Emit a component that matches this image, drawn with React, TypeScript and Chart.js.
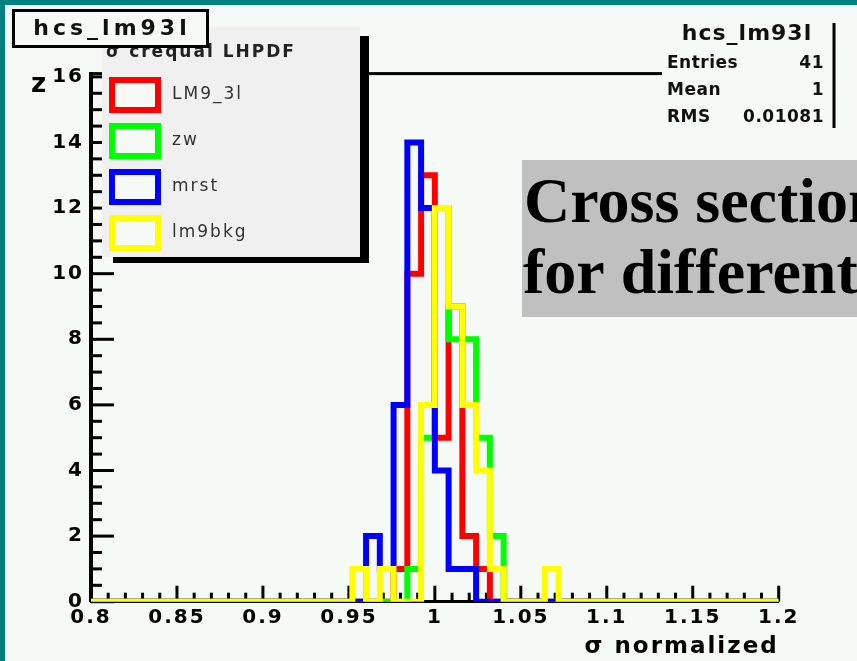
import React, { useEffect, useRef } from 'react';
import { Chart, registerables } from 'chart.js';

Chart.register(...registerables);

// ---------- data ----------
const binStart = 0.8;
const binWidth = 0.008;
const binCount = 50;

const xTicks = [0.8, 0.85, 0.9, 0.95, 1, 1.05, 1.1, 1.15, 1.2];
const yTicks = [0, 2, 4, 6, 8, 10, 12, 14, 16];
const yMax = 16.1;

const seriesNames = ['LM9_3l', 'zw', 'mrst', 'lm9bkg'];
const seriesColors = ['#ff0000', '#00ff00', '#0000ff', '#ffff00'];

// counts per bin (bin i covers binStart + i*binWidth ... + binWidth)
const lm93lCounts = [
  0, 0, 0, 0, 0, 0, 0, 0, 0, 0,
  0, 0, 0, 0, 0, 0, 0, 0, 0, 0,
  0, 0, 1, 10, 13, 5, 9, 2, 1, 0,
  0, 0, 0, 0, 0, 0, 0, 0, 0, 0,
  0, 0, 0, 0, 0, 0, 0, 0, 0, 0,
];
const zwCounts = [
  0, 0, 0, 0, 0, 0, 0, 0, 0, 0,
  0, 0, 0, 0, 0, 0, 0, 0, 0, 0,
  0, 0, 0, 1, 5, 12, 8, 8, 5, 2,
  0, 0, 0, 0, 0, 0, 0, 0, 0, 0,
  0, 0, 0, 0, 0, 0, 0, 0, 0, 0,
];
const mrstCounts = [
  0, 0, 0, 0, 0, 0, 0, 0, 0, 0,
  0, 0, 0, 0, 0, 0, 0, 0, 0, 0,
  2, 1, 6, 14, 12, 4, 1, 1, 0, 0,
  0, 0, 0, 0, 0, 0, 0, 0, 0, 0,
  0, 0, 0, 0, 0, 0, 0, 0, 0, 0,
];
const lm9bkgCounts = [
  0, 0, 0, 0, 0, 0, 0, 0, 0, 0,
  0, 0, 0, 0, 0, 0, 0, 0, 0, 1,
  0, 1, 0, 0, 6, 12, 9, 6, 4, 1,
  0, 0, 0, 1, 0, 0, 0, 0, 0, 0,
  0, 0, 0, 0, 0, 0, 0, 0, 0, 0,
];
const allCounts = [lm93lCounts, zwCounts, mrstCounts, lm9bkgCounts];

const histTitle = 'hcs_lm93l';
const legendHeader = 'σ crequal LHPDF';
const statsLabels = ['Entries', 'Mean', 'RMS'];
const statsValues = ['41', '1', '0.01081'];
const xAxisTitle = 'σ normalized';
const yAxisMark = 'z';
const bigTextLines = ['Cross section', 'for different'];

// ---------- style ----------
const BG = '#f5faf7';
const FONT = '"DejaVu Sans", sans-serif';

function toSteps(counts: number[]) {
  const pts = counts.map((c, i) => ({ x: binStart + i * binWidth, y: c }));
  pts.push({ x: binStart + binCount * binWidth, y: counts[counts.length - 1] });
  return pts;
}

const rootPlugin = {
  id: 'rootStyle',
  beforeDraw(chart: any) {
    const ctx = chart.ctx;
    ctx.save();
    ctx.fillStyle = BG;
    ctx.fillRect(0, 0, chart.width, chart.height);
    ctx.restore();
    ctx.letterSpacing = '2px';
  },
  beforeDatasetsDraw(chart: any) {
    const ctx = chart.ctx;
    const xs = chart.scales.x;
    const ys = chart.scales.y;
    const ca = chart.chartArea;
    ctx.save();
    ctx.strokeStyle = '#000';
    ctx.lineWidth = 3;
    const line = (x1: number, y1: number, x2: number, y2: number) => {
      ctx.beginPath();
      ctx.moveTo(x1, y1);
      ctx.lineTo(x2, y2);
      ctx.stroke();
    };
    for (let i = 0; i < xTicks.length; i++) {
      const px = xs.getPixelForValue(xTicks[i]);
      line(px, ca.bottom, px, ca.bottom - 16);
      if (i < xTicks.length - 1) {
        const step = (xTicks[i + 1] - xTicks[i]) / 5;
        for (let k = 1; k < 5; k++) {
          const p = xs.getPixelForValue(xTicks[i] + k * step);
          line(p, ca.bottom, p, ca.bottom - 9);
        }
      }
    }
    for (let i = 0; i < yTicks.length; i++) {
      const py = ys.getPixelForValue(yTicks[i]);
      line(ca.left, py, ca.left + 23, py);
      if (i < yTicks.length - 1) {
        const step = (yTicks[i + 1] - yTicks[i]) / 4;
        for (let k = 1; k < 4; k++) {
          const p = ys.getPixelForValue(yTicks[i] + k * step);
          line(ca.left, p, ca.left + 11, p);
        }
      }
    }
    ctx.restore();
  },
  afterDraw(chart: any) {
    const ctx = chart.ctx;
    const ca = chart.chartArea;
    ctx.save();
    ctx.letterSpacing = '0px';

    // frame top line
    ctx.fillStyle = '#000';
    ctx.fillRect(ca.left, ca.top - 1.5, ca.right - ca.left, 3);

    // legend box with shadow
    ctx.fillStyle = '#000';
    ctx.fillRect(113, 36, 256, 227);
    ctx.fillStyle = '#f0f0f0';
    ctx.fillRect(102, 27, 258, 230);
    ctx.fillStyle = '#222';
    ctx.font = `bold 17px ${FONT}`;
    ctx.letterSpacing = '2px';
    ctx.textAlign = 'left';
    ctx.textBaseline = 'alphabetic';
    ctx.fillText(legendHeader, 106, 57);
    for (let i = 0; i < seriesNames.length; i++) {
      const top = 77 + i * 46;
      ctx.fillStyle = BG;
      ctx.fillRect(109, top, 52, 36);
      ctx.strokeStyle = seriesColors[i];
      ctx.lineWidth = 6;
      ctx.strokeRect(112, top + 3, 46, 30);
      ctx.fillStyle = '#333';
      ctx.font = `17px ${FONT}`;
      ctx.textBaseline = 'middle';
      ctx.fillText(seriesNames[i], 172, top + 18);
    }

    // histogram name box
    ctx.fillStyle = BG;
    ctx.fillRect(12, 9, 197, 39);
    ctx.strokeStyle = '#000';
    ctx.lineWidth = 3;
    ctx.strokeRect(13.5, 10.5, 194, 36);
    ctx.fillStyle = '#111';
    ctx.font = `bold 22px ${FONT}`;
    ctx.letterSpacing = '4px';
    ctx.textAlign = 'center';
    ctx.textBaseline = 'alphabetic';
    ctx.fillText(histTitle, 112, 35);

    // stats box
    ctx.fillStyle = BG;
    ctx.fillRect(662, 14, 170, 115);
    ctx.fillStyle = '#000';
    ctx.fillRect(832.5, 23, 3, 105);
    ctx.fillStyle = '#111';
    ctx.font = `bold 22px ${FONT}`;
    ctx.letterSpacing = '1px';
    ctx.textAlign = 'center';
    ctx.fillText(histTitle, 747, 40);
    ctx.font = `bold 17px ${FONT}`;
    ctx.letterSpacing = '0.5px';
    const rowBase = [68, 95, 121.5];
    for (let i = 0; i < statsLabels.length; i++) {
      ctx.textAlign = 'left';
      ctx.fillText(statsLabels[i], 667, rowBase[i]);
      ctx.textAlign = 'right';
      ctx.fillText(statsValues[i], 824, rowBase[i]);
    }

    // big grey text box
    ctx.fillStyle = '#c0c0c0';
    ctx.fillRect(522, 160, 340, 157);
    ctx.fillStyle = '#000';
    ctx.letterSpacing = '0px';
    ctx.font = 'bold 64px "Liberation Serif", "Times New Roman", serif';
    ctx.textAlign = 'left';
    ctx.fillText(bigTextLines[0], 524, 222);
    ctx.fillText(bigTextLines[1], 523, 293);

    // y-axis mark
    ctx.font = `bold 26px ${FONT}`;
    ctx.fillText(yAxisMark, 31, 92);

    // teal window border
    ctx.fillStyle = '#008080';
    ctx.fillRect(0, 0, chart.width, 5);
    ctx.fillRect(0, 0, 5, chart.height);
    ctx.restore();
  },
};

export default function App() {
  const canvasRef = useRef<HTMLCanvasElement>(null);

  useEffect(() => {
    const canvas = canvasRef.current;
    if (!canvas) return;
    const order = [4, 3, 2, 1];
    const chart = new Chart(canvas, {
      type: 'line',
      data: {
        datasets: allCounts.map((counts, i) => ({
          label: seriesNames[i],
          data: toSteps(counts),
          borderColor: seriesColors[i],
          backgroundColor: seriesColors[i],
          borderWidth: 6,
          stepped: true,
          pointRadius: 0,
          fill: false,
          order: order[i],
          borderJoinStyle: 'miter',
          borderCapStyle: 'butt',
        })),
      },
      options: {
        animation: false,
        responsive: false,
        devicePixelRatio: 1,
        events: [],
        layout: { padding: { top: 73.6, right: 78.3, left: 0, bottom: 0 } },
        plugins: {
          legend: { display: false },
          tooltip: { enabled: false },
          title: { display: false },
        },
        scales: {
          x: {
            type: 'linear',
            min: binStart,
            max: binStart + binCount * binWidth,
            afterBuildTicks: (scale: any) => {
              scale.ticks = xTicks.map((v) => ({ value: v }));
            },
            afterFit: (scale: any) => {
              scale.height = 59.3;
            },
            grid: { display: false, drawTicks: false },
            border: { display: true, color: '#000', width: 3 },
            ticks: {
              autoSkip: false,
              maxRotation: 0,
              padding: 4,
              color: '#000',
              font: { family: FONT, size: 20, weight: 'bold' },
              callback: (v: any) => String(Math.round(Number(v) * 1000) / 1000),
            },
            title: {
              display: true,
              text: xAxisTitle,
              align: 'end',
              color: '#000',
              font: { family: FONT, size: 23, weight: 'bold' },
              padding: { top: 0, bottom: 0 },
            },
          },
          y: {
            type: 'linear',
            min: 0,
            max: yMax,
            afterBuildTicks: (scale: any) => {
              scale.ticks = yTicks.map((v) => ({ value: v }));
            },
            afterFit: (scale: any) => {
              scale.width = 91;
            },
            grid: { display: false, drawTicks: false },
            border: { display: true, color: '#000', width: 4 },
            ticks: {
              autoSkip: false,
              padding: 7,
              color: '#000',
              font: { family: FONT, size: 20, weight: 'bold' },
              callback: (v: any) => String(v),
            },
          },
        },
      },
      plugins: [rootPlugin],
    } as any);
    return () => chart.destroy();
  }, []);

  return (
    <div style={{ position: 'fixed', left: 0, top: 0, width: 857, height: 661, overflow: 'hidden' }}>
      <canvas ref={canvasRef} width={857} height={661} style={{ display: 'block', width: 857, height: 661 }} />
    </div>
  );
}
